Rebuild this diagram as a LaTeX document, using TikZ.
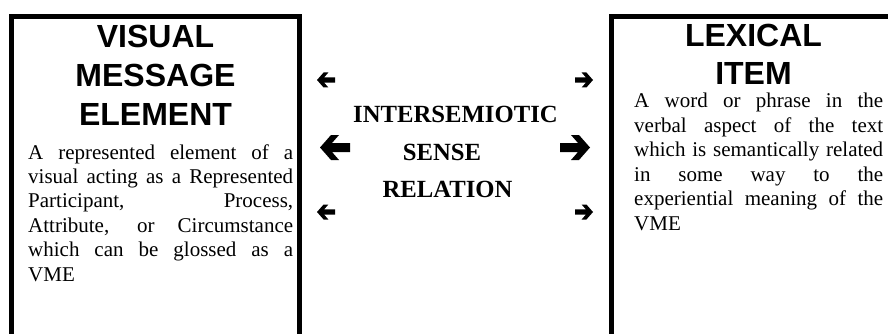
\documentclass[tikz,border=0pt]{standalone}
\usepackage{fontspec}
\setmainfont{Liberation Serif}
\newfontfamily\headfont{Liberation Sans}
\tikzset{
  boxline/.style={line width=5pt, line join=miter, line cap=butt},
  head/.style={font=\headfont\bfseries\fontsize{32pt}{38.5pt}\selectfont, inner sep=0pt, anchor=base},
  mid/.style={font=\bfseries\fontsize{24.7pt}{37pt}\selectfont, inner sep=0pt, anchor=base},
  body/.style={font=\fontsize{21pt}{24.4pt}\selectfont, inner sep=0pt, anchor=base west},
  wdarrow/.pic={\fill (0,0) -- (11,-12.5) -- (19,-12.5) -- (12,-4.5) -- (30,-4.5) -- (30,4.5) -- (12,4.5) -- (19,12.5) -- (11,12.5) -- cycle;}
}
\newcommand{\jl}[2]{\makebox[#1][s]{#2}}
\begin{document}
\begin{tikzpicture}[x=1pt,y=-1pt]
\useasboundingbox (0,0) rectangle (888,334);
\begin{scope}
\clip (0,0) rectangle (888,334);
\draw[boxline] (11.5,345) -- (11.5,16.5) -- (299.5,16.5) -- (299.5,345);
\draw[boxline] (611.5,345) -- (611.5,16.5) -- (905,16.5) -- (905,345);
\end{scope}
% left box
\node[head] (vis) at (155.5,48) {VISUAL};
\node[head] (mes) at (155.5,86.5) {MESSAGE};
\node[head] (ele) at (155.5,125) {ELEMENT};
\node[body] (l1) at (28,159) {\jl{265pt}{A represented element of a}};
\node[body] (l2) at (28,183.4) {\jl{265pt}{visual acting as a Represented}};
\node[body] (l3) at (28,207.8) {\jl{265pt}{Participant, Process,}};
\node[body] (l4) at (28,232.2) {\jl{265pt}{Attribute, or Circumstance}};
\node[body] (l5) at (28,256.6) {\jl{265pt}{which can be glossed as a}};
\node[body] (l6) at (28,281) {VME};
% right box
\node[head] (lex) at (753.5,47) {LEXICAL};
\node[head] (itm) at (753.5,84.5) {ITEM};
\node[body] (r1) at (634,108) {\jl{249pt}{A word or phrase in the}};
\node[body] (r2) at (634,132.4) {\jl{249pt}{verbal aspect of the text}};
\node[body] (r3) at (634,156.8) {\jl{249pt}{which is semantically related}};
\node[body] (r4) at (634,181.2) {\jl{249pt}{in some way to the}};
\node[body] (r5) at (634,205.6) {\jl{249pt}{experiential meaning of the}};
\node[body] (r6) at (634,230) {VME};
% middle
\node[mid] (m1) at (455.5,123) {INTERSEMIOTIC};
\node[mid] (m2) at (442,160) {SENSE};
\node[mid] (m3) at (447.5,197) {RELATION};
\pic[scale=0.6] at (317,80) {wdarrow};
\pic[xscale=-0.6,yscale=0.6] at (593,80) {wdarrow};
\pic at (320,147.5) {wdarrow};
\pic[xscale=-1] at (590,147.5) {wdarrow};
\pic[scale=0.6] at (317,212) {wdarrow};
\pic[xscale=-0.6,yscale=0.6] at (593,212) {wdarrow};
\end{tikzpicture}
\end{document}
